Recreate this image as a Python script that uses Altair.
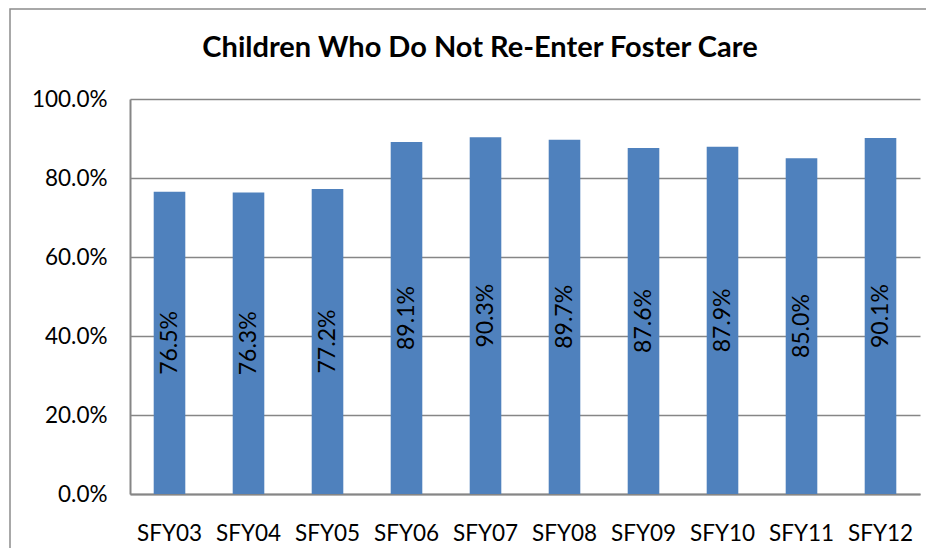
import altair as alt
import pandas as pd

years = ["SFY03", "SFY04", "SFY05", "SFY06", "SFY07", "SFY08", "SFY09", "SFY10", "SFY11", "SFY12"]
rates = [76.5, 76.3, 77.2, 89.1, 90.3, 89.7, 87.6, 87.9, 85.0, 90.1]
title_text = "Children Who Do Not Re-Enter Foster Care"

df = pd.DataFrame({"year": years, "rate": [r / 100 for r in rates]})
df["label"] = [f"{r:.1f}%" for r in rates]
df["mid"] = df["rate"] / 2

FONT = "Lato"

x = alt.X("year:N", sort=years, title=None,
          scale=alt.Scale(paddingInner=0.6, paddingOuter=0.3),
          axis=alt.Axis(labelAngle=0, labelFontSize=22.5, labelColor="#000", labelPadding=28,
                        ticks=False, domainColor="#868686", domainWidth=2, labelFont=FONT))

bars = alt.Chart(df).mark_bar(color="#4F81BD").encode(
    x=x,
    y=alt.Y("rate:Q", title=None, scale=alt.Scale(domain=[0, 1]),
            axis=alt.Axis(format=".1%", values=[0, 0.2, 0.4, 0.6, 0.8, 1.0], labelFontSize=22.5,
                          labelColor="#000", labelPadding=23, ticks=False, gridColor="#868686",
                          gridWidth=1.5, domainColor="#868686", domainWidth=2, labelFont=FONT)),
)

labels = alt.Chart(df).mark_text(angle=270, fontSize=23, color="#000", font=FONT,
                                 align="center", baseline="middle").encode(
    x=alt.X("year:N", sort=years),
    y=alt.Y("mid:Q"),
    text="label:N",
)

frame = alt.Chart(pd.DataFrame({"a": [0]})).mark_rect(fill=None, stroke="#8c8c8c", strokeWidth=1.5).encode(
    x=alt.value(-120), x2=alt.value(830), y=alt.value(-90), y2=alt.value(480)
)

title = alt.Chart(pd.DataFrame({"t": [title_text]})).mark_text(
    fontSize=29, font=FONT, fontWeight="bold", color="#000", align="center", baseline="middle"
).encode(x=alt.value(350), y=alt.value(-51), text="t:N")

chart = alt.layer(bars, labels, frame, title).properties(
    width=790, height=395,
    autosize=alt.AutoSizeParams(type="none"),
    padding={"left": 122, "top": 91, "right": 6, "bottom": 54},
).configure_view(stroke=None)

chart.save("out.html", embed_options={"renderer": "svg", "actions": False})
